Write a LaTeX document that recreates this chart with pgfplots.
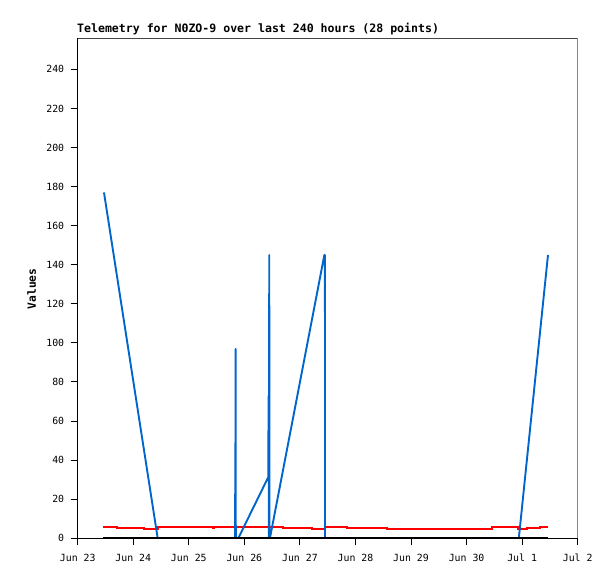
\documentclass[border=0pt]{standalone}
\usepackage{fontspec}
\setmainfont{DejaVu Sans Mono}
\usepackage{pgfplots}
\pgfplotsset{compat=1.18}
\definecolor{blueline}{HTML}{0066CC}
\definecolor{framegray}{HTML}{444444}
\begin{document}
\begin{tikzpicture}[x=1bp,y=1bp]
\useasboundingbox (0,0) rectangle (615,579);
\begin{axis}[
  at={(77.7bp,40.7bp)}, anchor=south west,
  scale only axis, width=500bp, height=500bp,
  xmin=0, xmax=9, ymin=0, ymax=255.9,
  axis lines=left,
  axis line style={-, black, line width=1bp},
  tick align=outside, major tick length=7bp,
  tick style={black, line width=1bp},
  xtick={0,1,2,3,4,5,6,7,8,9},
  xticklabels={Jun 23,Jun 24,Jun 25,Jun 26,Jun 27,Jun 28,Jun 29,Jun 30,Jul 1,Jul 2},
  ytick={0,20,40,60,80,100,120,140,160,180,200,220,240},
  /pgf/number format/assume math mode=true,
  tick label style={font=\fontsize{9.9}{10}\selectfont},
  every x tick label/.append style={yshift=-5bp},
  every y tick label/.append style={xshift=-3bp},
]
\draw[framegray, line width=1bp] (rel axis cs:0,1) -- (rel axis cs:1,1) -- (rel axis cs:1,0);
\addplot[red, line width=2bp, const plot] coordinates {
(0.46,5.8) (0.713,5.3) (1.193,4.8) (1.451,5.8) (2.44,5.3) (2.46,5.8)
(3.70,5.3) (4.21,4.8) (4.46,5.8) (4.84,5.3) (5.56,4.8) (7.45,5.8)
(7.93,4.8) (8.08,5.3) (8.32,5.8) (8.47,5.8)};
\addplot[blueline, line width=1.9bp, line join=round] coordinates {
(0.473,177) (1.44,0) (2.834,0) (2.836,48.9) (2.840,0) (2.842,96.9) (2.846,0)
(2.89,0) (3.43,31.3) (3.436,73) (3.440,0) (3.448,145) (3.452,0) (3.46,0)
(4.44,145) (4.45,145) (4.452,0) (7.94,0) (8.465,145)};
\addplot[black, line width=2.2bp] coordinates {(0.46,0.25) (8.47,0.25)};
\end{axis}
\node[anchor=base west, font=\bfseries\fontsize{11.6}{12}\selectfont, inner sep=0pt] at (77bp,546bp) {Telemetry for N0ZO-9 over last 240 hours (28 points)};
\node[rotate=90, font=\bfseries\fontsize{11.3}{12}\selectfont, inner sep=0pt] at (31.7bp,290bp) {Values};
\end{tikzpicture}
\end{document}
